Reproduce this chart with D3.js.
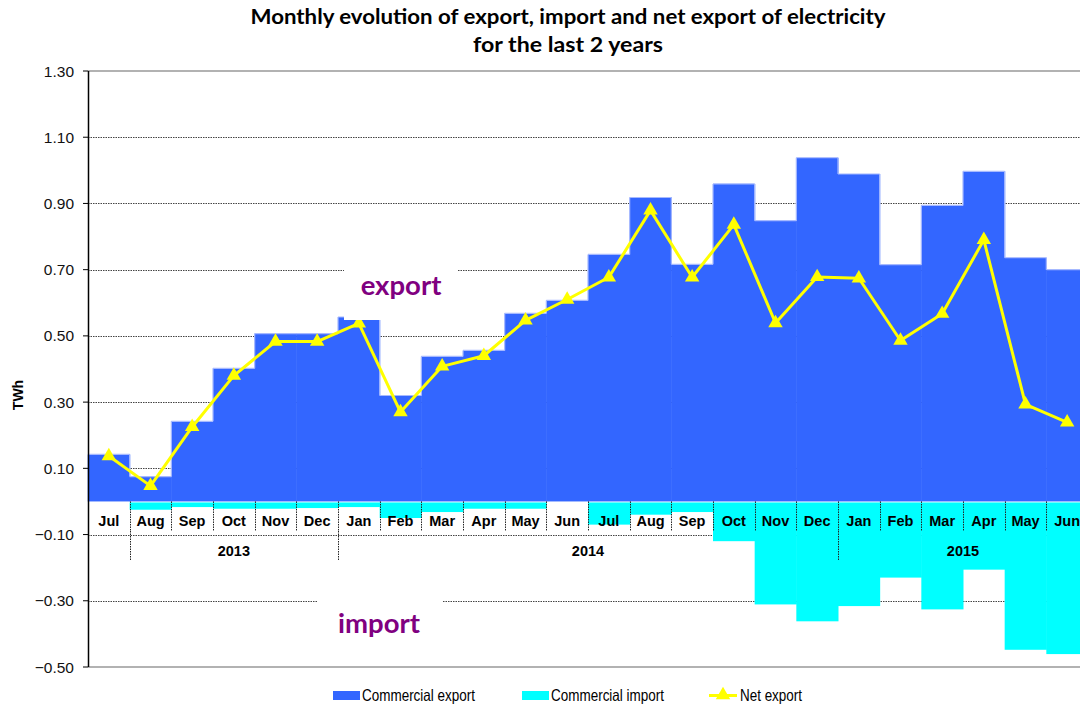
<!DOCTYPE html>
<html><head><meta charset="utf-8">
<script src="https://cdn.jsdelivr.net/npm/d3@7"></script>
<style>body{margin:0;background:#fff}svg{display:block}</style>
</head><body>
<svg id="c" width="1080" height="706"></svg>
<script>
const months = ["Jul","Aug","Sep","Oct","Nov","Dec","Jan","Feb","Mar","Apr","May","Jun","Jul","Aug","Sep","Oct","Nov","Dec","Jan","Feb","Mar","Apr","May","Jun"];
const years = [{label:"",from:0,to:0},{label:"2013",from:1,to:5},{label:"2014",from:6,to:17},{label:"2015",from:18,to:23}];
const exportVals = [0.142,0.075,0.242,0.402,0.507,0.507,0.557,0.32,0.438,0.456,0.568,0.607,0.746,0.918,0.716,0.959,0.848,1.038,0.989,0.715,0.894,0.997,0.736,0.700];
const importVals = [-0.003,-0.025,-0.017,-0.022,-0.022,-0.02,-0.017,-0.05,-0.032,-0.022,-0.022,-0.002,-0.07,-0.04,-0.032,-0.12,-0.311,-0.362,-0.316,-0.23,-0.326,-0.206,-0.448,-0.461];
const netVals = [0.137,0.047,0.225,0.38,0.483,0.483,0.538,0.27,0.408,0.44,0.547,0.61,0.677,0.879,0.677,0.836,0.539,0.678,0.674,0.486,0.567,0.79,0.293,0.239];
const yTicks = [-0.5,-0.3,-0.1,0.1,0.3,0.5,0.7,0.9,1.1,1.3];
const titleLines = ["Monthly evolution of export, import and net export of electricity","for the last 2 years"];
const legendLabels = ["Commercial export","Commercial import","Net export"];

const svg = d3.select("#c");
const idx = months.map((_,i)=>i);
const x = d3.scaleBand().domain(idx).range([88,1088]).padding(0);
const y = d3.scaleLinear().domain([-0.5,1.3]).range([667,71]);
const bw = x.bandwidth();

// gridlines
svg.append("g").selectAll("line").data(yTicks.filter(v=>v>-0.5&&v<1.3)).join("line")
  .attr("x1",88).attr("x2",1088).attr("y1",d=>Math.round(y(d))+0.5).attr("y2",d=>Math.round(y(d))+0.5)
  .attr("stroke","#444").attr("stroke-width",1).attr("stroke-dasharray","1.5,1");
[1.3,-0.5].forEach(v=>svg.append("line").attr("x1",88).attr("x2",1088)
  .attr("y1",y(v)).attr("y2",y(v)).attr("stroke","#999").attr("stroke-width",1.5));

// export bars
svg.append("g").selectAll("rect").data(exportVals).join("rect")
  .attr("x",(d,i)=>x(i)).attr("width",bw+0.5).attr("y",d=>y(d)).attr("height",d=>y(0)-y(d))
  .attr("fill","#3366ff");
const outline = svg.append("g").attr("stroke","#a6b9ff").attr("stroke-width",1.2).attr("fill","none");
exportVals.forEach((v,i)=>{
  outline.append("line").attr("x1",x(i)).attr("x2",x(i)+bw).attr("y1",y(v)).attr("y2",y(v));
  const prev = i>0?exportVals[i-1]:0;
  outline.append("line").attr("x1",x(i)).attr("x2",x(i)).attr("y1",y(Math.max(v,prev))).attr("y2",y(Math.min(v,prev)));
});
// import bars
svg.append("g").selectAll("rect").data(importVals).join("rect")
  .attr("x",(d,i)=>x(i)).attr("width",bw+0.5).attr("y",y(0)+1).attr("height",d=>Math.max(0,y(d)-y(0)-1))
  .attr("fill","#00ffff");

// category ticks
const tk = svg.append("g").attr("stroke","#222").attr("stroke-width",1).attr("stroke-dasharray","1.5,1");
idx.concat([24]).forEach(i=>{
  const xx = Math.round(i<24?x(i):x(23)+bw)+0.5;
  tk.append("line").attr("x1",xx).attr("x2",xx).attr("y1",y(0)).attr("y2",531);
});
years.forEach(yr=>{
  if(yr.from>0){const xx=Math.round(x(yr.from))+0.5;
    tk.append("line").attr("x1",xx).attr("x2",xx).attr("y1",531).attr("y2",561);}
});
svg.append("g").selectAll("text").data(months).join("text")
  .attr("x",(d,i)=>x(i)+bw/2).attr("y",526).attr("text-anchor","middle")
  .attr("font-family","Liberation Sans, Arial").attr("font-weight","bold").attr("font-size",14.5).text(d=>d);
svg.append("g").selectAll("text").data(years.filter(d=>d.label)).join("text")
  .attr("x",d=>(x(d.from)+x(d.to)+bw)/2).attr("y",556).attr("text-anchor","middle")
  .attr("font-family","Liberation Sans, Arial").attr("font-weight","bold").attr("font-size",14.5).text(d=>d.label);

// y axis
svg.append("line").attr("x1",88.5).attr("x2",88.5).attr("y1",y(1.3)).attr("y2",y(-0.5)).attr("stroke","#000").attr("stroke-width",1.5);
svg.append("g").selectAll("line").data(yTicks).join("line").attr("x1",83).attr("x2",88)
  .attr("y1",d=>y(d)).attr("y2",d=>y(d)).attr("stroke","#000");
svg.append("g").selectAll("text").data(yTicks).join("text")
  .attr("x",74).attr("y",d=>y(d)+5.5).attr("text-anchor","end")
  .attr("font-family","Liberation Sans, Arial").attr("font-size",15.5).attr("fill","#111").text(d=>d3.format(".2f")(d));
svg.append("text").attr("transform","translate(23,395) rotate(-90)").attr("text-anchor","middle")
  .attr("font-family","Liberation Sans, Arial").attr("font-weight","bold").attr("font-size",14).text("TWh");

// net export line
const line = d3.line().x((d,i)=>x(i)+bw/2).y(d=>y(d));
svg.append("path").attr("d",line(netVals)).attr("fill","none").attr("stroke","#ffff00").attr("stroke-width",3).attr("stroke-linejoin","round");
svg.append("g").selectAll("path").data(netVals).join("path")
  .attr("transform",(d,i)=>`translate(${x(i)+bw/2},${y(d)})`)
  .attr("d",d3.symbol(d3.symbolTriangle,90)).attr("fill","#ffff00");

// export / import labels with white boxes
svg.append("rect").attr("x",344).attr("y",253).attr("width",113).attr("height",67).attr("fill","#fff");
svg.append("text").attr("x",401).attr("y",295).attr("text-anchor","middle").attr("fill","#800080")
  .attr("font-family","Lato, Open Sans").attr("font-weight","bold").attr("font-size",27.5).text("export");
svg.append("rect").attr("x",318).attr("y",590).attr("width",124).attr("height",66).attr("fill","#fff");
svg.append("text").attr("x",379).attr("y",633).attr("text-anchor","middle").attr("fill","#800080")
  .attr("font-family","Lato, Open Sans").attr("font-weight","bold").attr("font-size",27.5).text("import");

// title
svg.append("g").selectAll("text").data(titleLines).join("text")
  .attr("x",568).attr("y",(d,i)=>24+i*28).attr("text-anchor","middle")
  .attr("font-family","Lato, Open Sans").attr("font-weight","bold").attr("font-size",20)
  .attr("textLength",(d,i)=>i===0?635:190).attr("lengthAdjust","spacingAndGlyphs").text(d=>d);

// legend
const lg = svg.append("g").attr("font-family","Liberation Sans, Arial").attr("font-size",16.5);
lg.append("rect").attr("x",333).attr("y",691).attr("width",27).attr("height",9).attr("fill","#3366ff");
lg.append("rect").attr("x",522).attr("y",691).attr("width",27).attr("height",9).attr("fill","#00ffff");
lg.append("line").attr("x1",709).attr("x2",737).attr("y1",695.5).attr("y2",695.5).attr("stroke","#ffff00").attr("stroke-width",3);
lg.append("path").attr("transform","translate(723,695)").attr("d",d3.symbol(d3.symbolTriangle,90)).attr("fill","#ffff00");
const lgPos = [{x:362,w:113},{x:551,w:113},{x:740,w:62}];
lg.selectAll("text").data(legendLabels).join("text")
  .attr("x",(d,i)=>lgPos[i].x).attr("y",701)
  .attr("textLength",(d,i)=>lgPos[i].w).attr("lengthAdjust","spacingAndGlyphs").text(d=>d);
</script>
</body></html>
